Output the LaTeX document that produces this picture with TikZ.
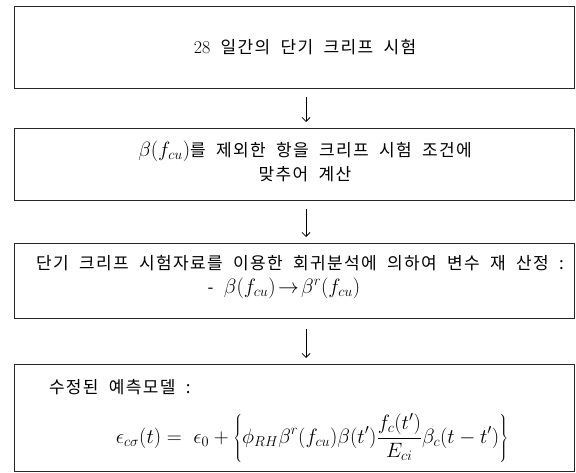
\documentclass[tikz,border=0pt]{standalone}
\usepackage{fontspec}
\newfontfamily\kr[LetterSpace=8,WordSpace=2]{Noto Sans CJK KR}
\usetikzlibrary{arrows.meta}
\begin{document}
\begin{tikzpicture}[x=1pt,y=-1pt,
  box/.style={draw=black!85,line width=0.9pt,minimum width=560pt,inner sep=0pt,outer sep=0pt},
  txt/.style={inner sep=0pt,outer sep=0pt,font=\kr\fontsize{17}{20}\selectfont},
  arr/.style={line width=0.8pt,-{Straight Barb[length=4pt,width=8pt]}}]
\useasboundingbox (0,0) rectangle (576,473);
\coordinate (ax) at (306,0);
\node[box,minimum height=82pt] (b1) at (294,47) {};
\node[box,minimum height=72pt] (b2) at (294,164) {};
\node[box,minimum height=75pt] (b3) at (294,280.5) {};
\node[box,minimum height=107pt] (b4) at (294,417.5) {};
\node[txt] (t1) at (305,47) {{\fontsize{18}{20}\selectfont\rmfamily 28} 일간의 단기 크리프 시험};
\node[txt] (t2a) at (305,151) {{\fontsize{22}{22}\selectfont$\beta(f_{cu})$}를 제외한 항을 크리프 시험 조건에};
\node[txt] (t2b) at (305,174) {맞추어 계산};
\node[txt] (t3a) at (300,263) {단기 크리프 시험자료를 이용한 회귀분석에 의하여 변수 재 산정 :};
\node[txt] (t3b) at (284,288) {- {\fontsize{22}{24}\selectfont$\beta(f_{cu})\!\rightarrow\!\beta^{r}(f_{cu})$}};
\node[txt,anchor=west] (t4a) at (49,387) {수정된 예측모델 :};
\node[txt] (t4b) at (312,438) {\fontsize{22}{24}\selectfont$\displaystyle \epsilon_{c\sigma}(t)=\;\epsilon_0+\left\{\phi_{RH}\beta^{r}(f_{cu})\beta(t')\frac{f_c(t')}{E_{ci}}\beta_c(t-t')\right\}$};
\draw[arr,shorten <=9pt,shorten >=6pt] (b1.south -| ax) -- (b2.north -| ax);
\draw[arr,shorten <=9pt,shorten >=6pt] (b2.south -| ax) -- (b3.north -| ax);
\draw[arr,shorten <=11pt,shorten >=6pt] (b3.south -| ax) -- (b4.north -| ax);
\end{tikzpicture}
\end{document}
